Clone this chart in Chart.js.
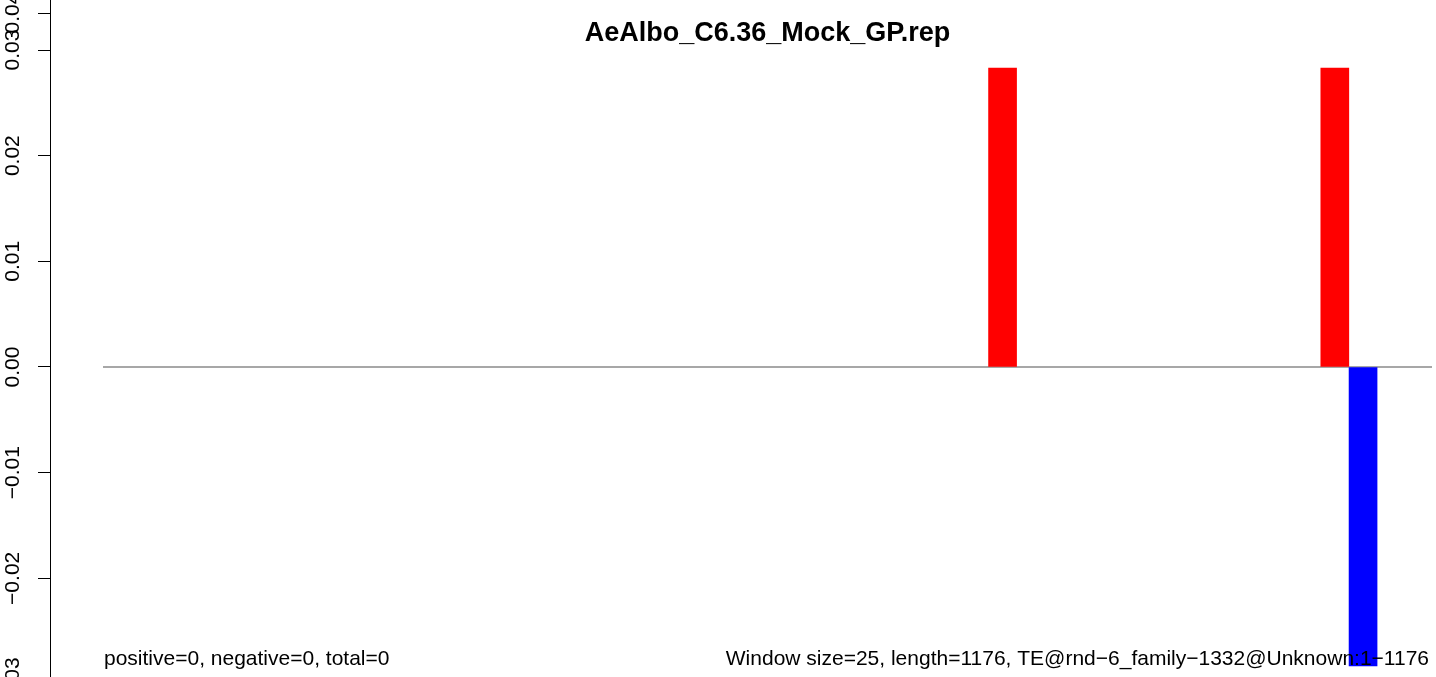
<!DOCTYPE html>
<html><head><meta charset="utf-8">
<script src="https://cdn.jsdelivr.net/npm/chart.js@4.4.0/dist/chart.umd.min.js"></script>
<style>html,body{margin:0;padding:0;background:#fff;overflow:hidden}#wrap{width:1436px;height:677px;position:relative}</style>
</head><body><div id="wrap"><canvas id="c" width="1436" height="677"></canvas></div>
<script>
const chartTitle = 'AeAlbo_C6.36_Mock_GP.rep';
const footLeft = 'positive=0, negative=0, total=0';
const footRight = 'Window size=25, length=1176, TE@rnd\u22126_family\u22121332@Unknown:1\u22121176';
const seqLength = 1176;
const positivePos = [796, 1090];
const positiveVal = [0.0283, 0.0283];
const negativePos = [1115];
const negativeVal = [-0.0283];
const baselineX = [0, 1176];
const baselineY = [0, 0];
const yTickValues = [-0.03, -0.02, -0.01, 0, 0.01, 0.02, 0.03, 0.0335];
const yTickLabels = ['\u22120.03', '\u22120.02', '\u22120.01', '0.00', '0.01', '0.02', '0.03', '0.04'];

const FONT = '"Liberation Sans", Arial, Helvetica, sans-serif';
const tickFont = {family: FONT, size: 21};

const textPlugin = {
  id: 'texts',
  afterDraw(chart) {
    const ctx = chart.ctx;
    const xs = chart.scales.x;
    const l = xs.getPixelForValue(0), r = xs.getPixelForValue(seqLength);
    ctx.save();
    ctx.fillStyle = '#000';
    ctx.textBaseline = 'alphabetic';
    ctx.font = 'bold 27px ' + FONT;
    ctx.textAlign = 'center';
    ctx.fillText(chartTitle, (l + r) / 2, 41);
    ctx.font = '21px ' + FONT;
    ctx.textAlign = 'left';
    ctx.fillText(footLeft, l + 1, 665);
    ctx.textAlign = 'right';
    ctx.fillText(footRight, r - 3, 665);
    ctx.restore();
  }
};

new Chart(document.getElementById('c'), {
  type: 'bar',
  data: {
    datasets: [
      {type: 'bar', label: 'positive', data: positivePos.map((x, i) => ({x: x, y: positiveVal[i]})),
       backgroundColor: '#ff0000', borderWidth: 0, barThickness: 28, grouped: false, order: 1},
      {type: 'bar', label: 'negative', data: negativePos.map((x, i) => ({x: x, y: negativeVal[i]})),
       backgroundColor: '#0000ff', borderWidth: 0, barThickness: 28, grouped: false, order: 1},
      {type: 'line', label: 'zero', data: baselineX.map((x, i) => ({x: x, y: baselineY[i]})),
       borderColor: '#8a8a8a', borderWidth: 1.5, pointRadius: 0, fill: false, order: 2}
    ]
  },
  options: {
    responsive: false, animation: false, devicePixelRatio: 1,
    layout: {padding: 0},
    plugins: {legend: {display: false}, tooltip: {enabled: false}, title: {display: false}},
    scales: {
      x: {type: 'linear', display: false, offset: false, grid: {offset: false}, min: -46.90, max: 1179.54},
      y: {
        type: 'linear', position: 'left', bounds: 'data',
        min: -0.029338, max: 0.034732,
        afterBuildTicks: s => { s.ticks = yTickValues.map(v => ({value: v})); },
        afterFit: s => { s.width = 50; s.paddingTop = 0; s.paddingBottom = 0; },
        grid: {drawOnChartArea: false, drawTicks: true, tickLength: 12, color: '#000', tickColor: '#000', lineWidth: 1, tickWidth: 1},
        border: {display: true, color: '#000', width: 1},
        ticks: {callback: (v, i) => yTickLabels[i], minRotation: 90, maxRotation: 90, crossAlign: 'center',
                padding: -1.5, autoSkip: false, font: tickFont, color: '#000'}
      }
    }
  },
  plugins: [textPlugin]
});
</script>
</body></html>
